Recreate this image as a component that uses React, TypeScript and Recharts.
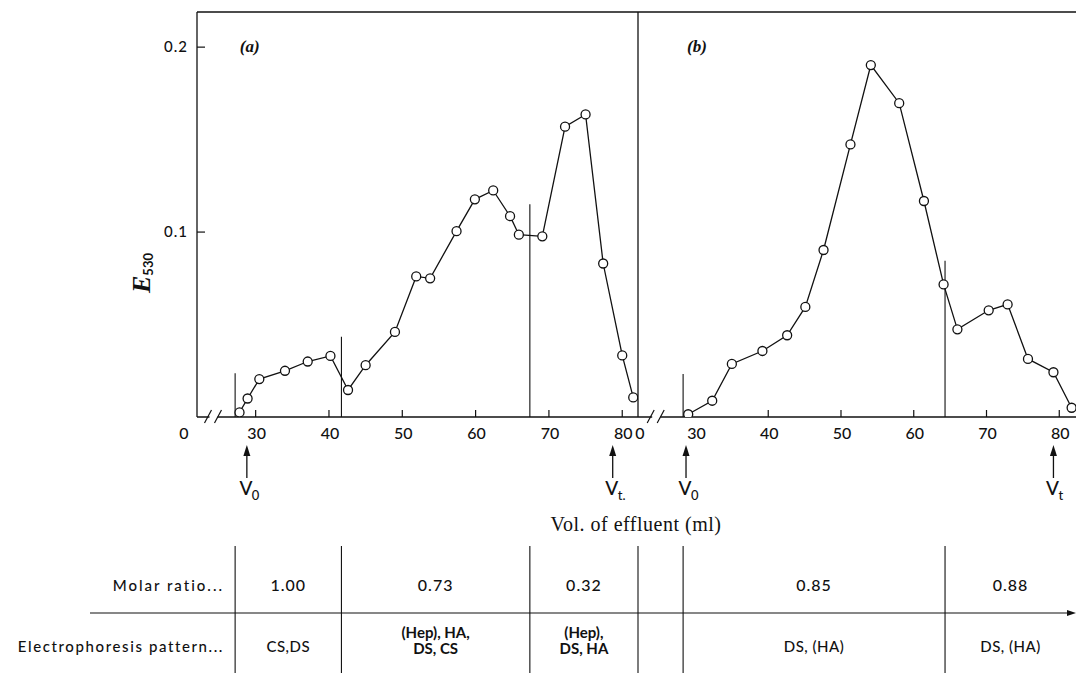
import { LineChart, Line, XAxis, YAxis, ReferenceLine, ReferenceDot } from "recharts";

// elution profile, panel (a)
const volumeA = [27.8, 28.9, 30.5, 34.0, 37.1, 40.2, 42.6, 45.0, 49.0, 51.9, 53.8, 57.4, 59.9, 62.4, 64.7, 65.9, 69.1, 72.2, 75.0, 77.4, 80.0, 81.5];
const extinctionA = [0.0025, 0.01, 0.0205, 0.025, 0.03, 0.033, 0.0146, 0.028, 0.046, 0.076, 0.075, 0.1005, 0.1177, 0.1225, 0.1086, 0.0986, 0.0977, 0.157, 0.1636, 0.083, 0.0333, 0.0106];

// elution profile, panel (b)
const volumeB = [29.0, 32.3, 35.0, 39.2, 42.6, 45.1, 47.6, 51.3, 54.1, 58.0, 61.4, 64.1, 66.0, 70.3, 72.9, 75.7, 79.2, 81.7];
const extinctionB = [0.0015, 0.0088, 0.0287, 0.0357, 0.0442, 0.0595, 0.0903, 0.1474, 0.1903, 0.1697, 0.1168, 0.0717, 0.0474, 0.0577, 0.0609, 0.0314, 0.0242, 0.005];

// fraction cuts (ml) and how high each cut line is drawn
const cutsA = [27.2, 41.7, 67.4];
const cutTopsA = [0.0236, 0.0434, 0.115];
const cutsB = [28.3, 64.3];
const cutTopsB = [0.0232, 0.0845];

// table below the plots
const molarA = ["1.00", "0.73", "0.32"];
const patternA = [["CS,DS"], ["(Hep), HA,", "DS, CS"], ["(Hep),", "DS, HA"]];
const molarB = ["", "0.85", "0.88"];
const patternB = [[], ["DS, (HA)"], ["DS, (HA)"]];

const xTicksA = [30, 40, 50, 60, 70, 80];
const xTicksB = [40, 50, 60, 70, 80];
const yTicks = [0.1, 0.2];
const Y_MAX = 0.219;
const DOMAIN_A: [number, number] = [22, 82.15];
const DOMAIN_B: [number, number] = [22.1, 82.3];

const INK = "#111";
const SANS = "Lato, 'Open Sans', sans-serif";
const SERIF = "'Liberation Serif', 'DejaVu Serif', serif";

const PLOT_BOTTOM = 417;
const TABLE_TOP = 546;
const TABLE_BOTTOM = 673;
const ROW1_Y = 591;

// marks drawn inward, labels below; the domain start carries the "0" of the broken axis
const makeXTick = (min: number, originDx: number, marked: number[]) => (props: any) => {
  const { x, y, payload } = props;
  if (payload.value === min) {
    return (
      <text x={x + originDx} y={y + 22} textAnchor="middle" fontFamily={SANS} fontWeight={500} fontSize={16} fill={INK}>
        0
      </text>
    );
  }
  return (
    <g>
      {marked.includes(payload.value) && <line x1={x} x2={x} y1={y} y2={y - 7} stroke={INK} strokeWidth={1.2} />}
      <text x={x + 1} y={y + 22} textAnchor="middle" fontFamily={SANS} fontWeight={500} fontSize={16} fill={INK}>
        {payload.value}
      </text>
    </g>
  );
};

const makeYTick = (showLabel: boolean) => (props: any) => {
  const { x, y, payload } = props;
  return (
    <g>
      <line x1={x} x2={x + 8} y1={y} y2={y} stroke={INK} strokeWidth={1.2} />
      {showLabel && (
        <text x={x - 9} y={y + 5} textAnchor="end" fontFamily={SANS} fontWeight={500} fontSize={15} letterSpacing={1} fill={INK}>
          {payload.value.toFixed(1)}
        </text>
      )}
    </g>
  );
};

const cutShape = (p: any) => (
  <g>
    <line x1={p.x1} x2={p.x2} y1={p.y1} y2={p.y2} stroke={INK} strokeWidth={1.1} />
    <line x1={p.x1} x2={p.x1} y1={TABLE_TOP} y2={TABLE_BOTTOM} stroke={INK} strokeWidth={1.1} />
  </g>
);

const tableEdgeShape = (p: any) => (
  <line x1={p.cx} x2={p.cx} y1={TABLE_TOP} y2={TABLE_BOTTOM} stroke={INK} strokeWidth={1.1} />
);

const breakShape = (p: any) => (
  <g>
    <rect x={p.cx - 4} y={p.cy - 2} width={8} height={4} fill="#fff" />
    <line x1={p.cx - 9} y1={p.cy + 6} x2={p.cx - 2} y2={p.cy - 7} stroke={INK} strokeWidth={1.2} />
    <line x1={p.cx + 1} y1={p.cy + 6} x2={p.cx + 8} y2={p.cy - 7} stroke={INK} strokeWidth={1.2} />
  </g>
);

const makeMarker = (sub: string) => (p: any) => (
  <g>
    <line x1={p.cx} x2={p.cx} y1={452} y2={478} stroke={INK} strokeWidth={1.3} />
    <path d={`M${p.cx},445 L${p.cx - 3.5},456 L${p.cx + 3.5},456 Z`} fill={INK} />
    <text x={p.cx - 1} y={495} textAnchor="middle" fontFamily={SANS} fontWeight={500} fontSize={19} fill={INK}>
      V
    </text>
    <text x={p.cx + 5} y={500} fontFamily={SANS} fontWeight={500} fontSize={13} fill={INK}>
      {sub}
    </text>
  </g>
);

const makeTag = (tag: string) => (p: any) => (
  <text x={p.cx} y={p.cy + 5} textAnchor="middle" fontFamily={SERIF} fontStyle="italic" fontWeight={700} fontSize={17} fill={INK}>
    {tag}
  </text>
);

const makeCell = (molar: string, pattern: string[]) => (p: any) => {
  const bold = pattern.length > 1;
  const base = pattern.length > 1 ? 638 : 652;
  return (
    <g fontFamily={SANS} fill={INK}>
      <text x={p.cx} y={ROW1_Y} textAnchor="middle" fontSize={16} fontWeight={500} letterSpacing={1}>
        {molar}
      </text>
      {pattern.map((line, i) => (
        <text key={i} x={p.cx} y={base + i * 16} textAnchor="middle" fontSize={15} fontWeight={bold ? 700 : 500} letterSpacing={bold ? 0 : 0.5}>
          {line}
        </text>
      ))}
    </g>
  );
};

interface PanelProps {
  left: number;
  width: number;
  marginLeft: number;
  marginRight: number;
  yAxisWidth: number;
  domain: [number, number];
  xTicks: number[];
  volumes: number[];
  values: number[];
  cuts: number[];
  cutTops: number[];
  molar: string[];
  pattern: string[][];
  edges: number[];
  markers: { v: number; sub: string }[];
  breakAt: number;
  tag: string;
  tagAt: number;
  showYLabels: boolean;
  originDx: number;
  rightBorder: boolean;
  leftTableEdge: boolean;
}

function Panel(props: PanelProps) {
  const data = props.volumes.map((v, i) => ({ v, e: props.values[i] }));
  const [xMin, xMax] = props.domain;
  return (
    <div style={{ position: "absolute", left: props.left, top: 0 }}>
      <LineChart
        width={props.width}
        height={673}
        data={data}
        margin={{ top: 12, right: props.marginRight, bottom: 673 - PLOT_BOTTOM - 30, left: props.marginLeft }}
      >
        <XAxis
          dataKey="v"
          type="number"
          domain={props.domain}
          allowDataOverflow
          ticks={[xMin, ...xTicksA]}
          interval={0}
          height={30}
          tickLine={false}
          tickSize={0}
          tickMargin={0}
          axisLine={{ stroke: INK, strokeWidth: 1.3 }}
          tick={makeXTick(xMin, props.originDx, props.xTicks)}
        />
        <YAxis
          type="number"
          domain={[0, Y_MAX]}
          allowDataOverflow
          ticks={yTicks}
          interval={0}
          width={props.yAxisWidth}
          tickLine={false}
          tickSize={0}
          tickMargin={0}
          axisLine={{ stroke: INK, strokeWidth: 1.3 }}
          tick={makeYTick(props.showYLabels)}
        />
        <ReferenceLine y={Y_MAX} stroke={INK} strokeWidth={1.3} />
        {props.rightBorder && <ReferenceLine x={xMax} stroke={INK} strokeWidth={1.3} />}
        <Line
          dataKey="e"
          type="linear"
          stroke={INK}
          strokeWidth={1.3}
          dot={{ r: 4.5, fill: "#fff", stroke: INK, strokeWidth: 1.3 }}
          activeDot={false}
          isAnimationActive={false}
        />
        {props.cuts.map((c, i) => (
          <ReferenceLine
            key={"cut" + i}
            segment={[{ x: c, y: 0 }, { x: c, y: props.cutTops[i] }]}
            shape={cutShape}
          />
        ))}
        {props.leftTableEdge && <ReferenceDot x={xMin} y={0} r={0} shape={tableEdgeShape} />}
        <ReferenceDot x={props.breakAt} y={0} r={0} shape={breakShape} />
        <ReferenceDot x={props.tagAt} y={0.2} r={0} shape={makeTag(props.tag)} />
        {props.markers.map((m, i) => (
          <ReferenceDot key={"mk" + i} x={m.v} y={0} r={0} shape={makeMarker(m.sub)} />
        ))}
        {props.molar.map((m, i) => (
          <ReferenceDot
            key={"cell" + i}
            x={(props.edges[i] + props.edges[i + 1]) / 2}
            y={0}
            r={0}
            shape={makeCell(m, props.pattern[i])}
          />
        ))}
      </LineChart>
    </div>
  );
}

export default function App() {
  return (
    <div style={{ position: "absolute", left: 0, top: 0, width: 1076, height: 673, background: "#fff", overflow: "hidden" }}>
      <Panel
        left={0}
        width={648}
        marginLeft={137}
        marginRight={10}
        yAxisWidth={60}
        domain={DOMAIN_A}
        xTicks={xTicksA}
        volumes={volumeA}
        values={extinctionA}
        cuts={cutsA}
        cutTops={cutTopsA}
        molar={molarA}
        pattern={patternA}
        edges={[...cutsA, DOMAIN_A[1]]}
        markers={[{ v: 28.8, sub: "0" }, { v: 78.7, sub: "t." }]}
        breakAt={24.25}
        tag="(a)"
        tagAt={29.2}
        showYLabels
        originDx={-13}
        rightBorder
        leftTableEdge={false}
      />
      <Panel
        left={628}
        width={448}
        marginLeft={10}
        marginRight={0}
        yAxisWidth={0}
        domain={DOMAIN_B}
        xTicks={xTicksB}
        volumes={volumeB}
        values={extinctionB}
        cuts={cutsB}
        cutTops={cutTopsB}
        molar={molarB}
        pattern={patternB}
        edges={[DOMAIN_B[0], ...cutsB, DOMAIN_B[1]]}
        markers={[{ v: 28.7, sub: "0" }, { v: 79.2, sub: "t" }]}
        breakAt={24.6}
        tag="(b)"
        tagAt={30.2}
        showYLabels={false}
        originDx={2}
        rightBorder={false}
        leftTableEdge
      />
      <svg width={1076} height={673} style={{ position: "absolute", left: 0, top: 0, pointerEvents: "none" }}>
        <text transform="rotate(-90, 150, 273)" x={150} y={273} textAnchor="middle" fill={INK}>
          <tspan fontFamily={SERIF} fontStyle="italic" fontWeight={700} fontSize={26}>E</tspan>
          <tspan fontFamily={SANS} fontWeight={700} fontSize={13} dy={3}>530</tspan>
        </text>
        <text x={636} y={531} textAnchor="middle" fontFamily={SERIF} fontSize={20} letterSpacing={0.5} fill={INK}>
          Vol. of effluent (ml)
        </text>
        <text x={224} y={ROW1_Y} textAnchor="end" fontFamily={SANS} fontWeight={500} fontSize={15} letterSpacing={2} fill={INK}>
          Molar ratio...
        </text>
        <text x={224} y={652} textAnchor="end" fontFamily={SANS} fontWeight={500} fontSize={15} letterSpacing={1.6} fill={INK}>
          Electrophoresis pattern...
        </text>
        <line x1={90} x2={1072} y1={613} y2={613} stroke={INK} strokeWidth={1.2} />
        <path d="M1076,613 L1067,610 L1067,616 Z" fill={INK} />
      </svg>
    </div>
  );
}
